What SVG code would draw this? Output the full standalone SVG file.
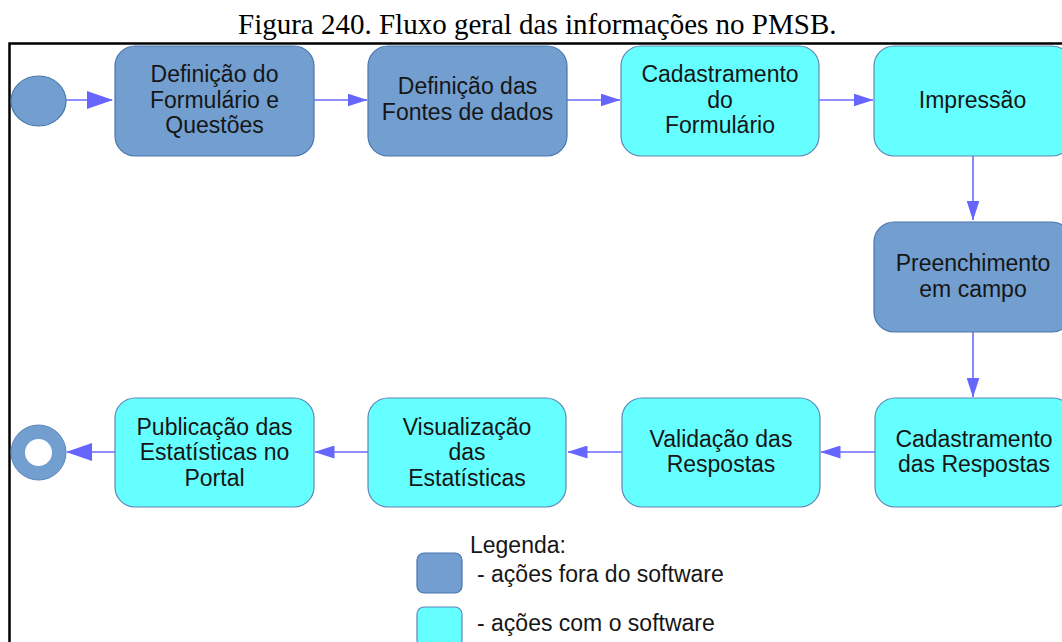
<svg xmlns="http://www.w3.org/2000/svg" width="1062" height="642" viewBox="0 0 1062 642">
<style>
.t{font-family:"Liberation Sans",Arial,sans-serif;font-size:23px;fill:#161616;text-anchor:middle}
.lg{font-family:"Liberation Sans",Arial,sans-serif;font-size:23px;fill:#161616}
.out{fill:#729fcf;stroke:#4a76ad;stroke-width:1.2}
.in{fill:#66ffff;stroke:#5f86b8;stroke-width:1.2}
.c{stroke:#6a6aff;stroke-width:1.6;fill:none}
.title{font-family:"Liberation Serif","Times New Roman",serif;font-size:29px;fill:#000}
</style>
<defs>
<marker id="big" markerUnits="userSpaceOnUse" markerWidth="26" markerHeight="18" viewBox="0 0 26 18" refX="25" refY="9" orient="auto">
<path d="M0,0 L26,9 L0,18 Z" fill="#6666ff"/>
</marker>
<marker id="sm" markerUnits="userSpaceOnUse" markerWidth="20" markerHeight="13" viewBox="0 0 20 13" refX="19.5" refY="6.5" orient="auto">
<path d="M0,0 L20,6.5 L0,13 Z" fill="#6666ff"/>
</marker>
</defs>
<rect width="1062" height="642" fill="#fff"/>
<text class="title" x="238" y="34">Figura 240. Fluxo geral das informações no PMSB.</text>
<rect x="9.5" y="43.5" width="1070" height="620" fill="none" stroke="#000" stroke-width="2.5"/>

<g id="connectors">
<line class="c" x1="66" y1="100" x2="112" y2="100" marker-end="url(#big)"/>
<line class="c" x1="314" y1="100" x2="367" y2="100" marker-end="url(#sm)"/>
<line class="c" x1="567" y1="100" x2="620" y2="100" marker-end="url(#sm)"/>
<line class="c" x1="819" y1="100" x2="873" y2="100" marker-end="url(#sm)"/>
<line class="c" x1="973" y1="156" x2="973" y2="220" marker-end="url(#sm)"/>
<line class="c" x1="973" y1="332" x2="973" y2="397" marker-end="url(#sm)"/>
<line class="c" x1="875" y1="452" x2="821" y2="452" marker-end="url(#sm)"/>
<line class="c" x1="622" y1="452" x2="568" y2="452" marker-end="url(#sm)"/>
<line class="c" x1="368" y1="452" x2="315" y2="452" marker-end="url(#sm)"/>
<line class="c" x1="115" y1="452" x2="67" y2="452" marker-end="url(#big)"/>
</g>

<g id="start"><ellipse cx="38.5" cy="101" rx="27.5" ry="25" class="out"/></g>

<g id="n1"><rect class="out" x="115" y="46" width="199" height="110" rx="20"/>
<text class="t" x="214.5" y="82">Definição do</text><text class="t" x="214.5" y="107.5">Formulário e</text><text class="t" x="214.5" y="133">Questões</text></g>

<g id="n2"><rect class="out" x="368" y="46" width="199" height="110" rx="20"/>
<text class="t" x="467.5" y="94">Definição das</text><text class="t" x="467.5" y="120">Fontes de dados</text></g>

<g id="n3"><rect class="in" x="621" y="46" width="198" height="110" rx="20"/>
<text class="t" x="720" y="82">Cadastramento</text><text class="t" x="720" y="107.5">do</text><text class="t" x="720" y="133">Formulário</text></g>

<g id="n4"><rect class="in" x="874" y="46" width="198" height="110" rx="20"/>
<text class="t" x="972.5" y="107.5">Impressão</text></g>

<g id="n5"><rect class="out" x="874" y="222" width="198" height="110" rx="20"/>
<text class="t" x="973" y="271">Preenchimento</text><text class="t" x="973" y="297">em campo</text></g>

<g id="n6"><rect class="in" x="875" y="398" width="198" height="109" rx="20"/>
<text class="t" x="974" y="446.5">Cadastramento</text><text class="t" x="974" y="472">das Respostas</text></g>

<g id="n7"><rect class="in" x="622" y="398" width="198" height="109" rx="20"/>
<text class="t" x="721" y="446.5">Validação das</text><text class="t" x="721" y="472">Respostas</text></g>

<g id="n8"><rect class="in" x="368" y="398" width="198" height="109" rx="20"/>
<text class="t" x="467" y="434.5">Visualização</text><text class="t" x="467" y="460">das</text><text class="t" x="467" y="485.5">Estatísticas</text></g>

<g id="n9"><rect class="in" x="115" y="398" width="199" height="109" rx="20"/>
<text class="t" x="214.5" y="434.5">Publicação das</text><text class="t" x="214.5" y="460">Estatísticas no</text><text class="t" x="214.5" y="485.5">Portal</text></g>

<g id="end"><circle cx="38.5" cy="452.5" r="27.5" fill="#729fcf" stroke="#5a86bd" stroke-width="1"/><circle cx="38.5" cy="452.5" r="13.5" fill="#fff"/></g>

<g id="legend">
<text class="lg" x="470" y="553">Legenda:</text>
<rect class="out" x="417" y="553" width="45" height="40" rx="7"/>
<text class="lg" x="477" y="582">- ações fora do software</text>
<rect class="in" x="417" y="607" width="45" height="40" rx="7"/>
<text class="lg" x="477" y="631">- ações com o software</text>
</g>
</svg>
